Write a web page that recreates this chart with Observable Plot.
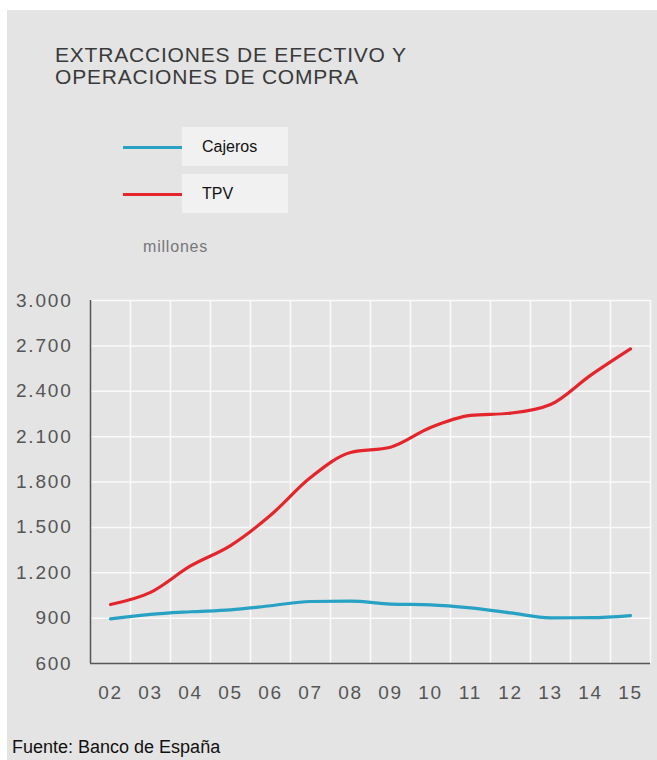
<!DOCTYPE html>
<html>
<head>
<meta charset="utf-8">
<script src="https://cdn.jsdelivr.net/npm/d3@7"></script>
<script src="https://cdn.jsdelivr.net/npm/@observablehq/plot@0.6"></script>
<style>
  html, body { margin: 0; padding: 0; background: #fff; }
  body { width: 657px; height: 760px; position: relative; overflow: hidden; font-family: "Liberation Sans", Arial, Helvetica, sans-serif; }
  #panel { position: absolute; left: 7px; top: 10px; width: 650px; height: 750px; background: #e4e4e4; }
  .abs { position: absolute; white-space: nowrap; }
  #title { left: 48px; top: 34px; font-size: 21px; line-height: 22px; color: #3a3a3a; letter-spacing: 0.8px; }
  .lgline { position: absolute; height: 3px; width: 59px; left: 116px; }
  .lgbox { position: absolute; left: 175px; width: 106px; height: 39px; background: #f1f1f1; font-size: 16px; color: #111; line-height: 39px; box-sizing: border-box; padding-left: 20px; }
  #unit { left: 136px; top: 228px; font-size: 16px; color: #777; letter-spacing: 0.8px; }
  #chart { position: absolute; left: 0; top: 270px; }
  #caption { left: 5px; top: 727px; font-size: 18px; color: #111; }
  #chart svg text { letter-spacing: 1.8px; }
</style>
</head>
<body>
<div id="panel">
  <div id="title" class="abs">EXTRACCIONES DE EFECTIVO Y<br>OPERACIONES DE COMPRA</div>
  <div id="legend"></div>
  <div id="unit" class="abs">millones</div>
  <div id="chart"></div>
  <div id="caption" class="abs">Fuente: Banco de España</div>
</div>
<script>
// ---- data ----
const years = ["02","03","04","05","06","07","08","09","10","11","12","13","14","15"];
const cajeros = [895, 925, 942, 955, 982, 1010, 1012, 993, 988, 968, 935, 902, 903, 917];
const tpv = [990, 1070, 1245, 1380, 1580, 1830, 1995, 2030, 2160, 2240, 2255, 2312, 2505, 2680];
const series = ["Cajeros", "TPV"];
const seriesColors = ["#27a1c4", "#e4262c"];
const yTicks = [600, 900, 1200, 1500, 1800, 2100, 2400, 2700, 3000];

const rows = [
  ...years.map((y, i) => ({year: y, value: cajeros[i], serie: series[0]})),
  ...years.map((y, i) => ({year: y, value: tpv[i], serie: series[1]}))
];

const fmt = d3.formatLocale({decimal: ",", thousands: ".", grouping: [3], currency: ["", "€"]}).format(",");

// legend (HTML)
const legend = document.getElementById("legend");
series.forEach((s, i) => {
  const top = 117 + i * 47;
  const line = document.createElement("div");
  line.className = "lgline";
  line.style.top = (top + 19) + "px";
  line.style.background = seriesColors[i];
  legend.appendChild(line);
  const box = document.createElement("div");
  box.className = "lgbox";
  box.style.top = top + "px";
  box.textContent = s;
  legend.appendChild(box);
});

const chart = Plot.plot({
  width: 650,
  height: 433,
  marginLeft: 83,
  marginRight: 7,
  marginTop: 20,
  marginBottom: 50,
  style: {background: "transparent", fontFamily: "'Liberation Sans', Arial, sans-serif", fontSize: "19px", color: "#555", overflow: "visible"},
  x: {type: "point", domain: years, padding: 0.5, axis: null},
  y: {domain: [600, 3000], axis: null},
  color: {domain: series, range: seriesColors},
  marks: [
    Plot.ruleY(yTicks.filter(v => v > 600), {stroke: "#fafafa", strokeWidth: 1.5}),
    Plot.ruleX(years, {dx: 20, stroke: "#fafafa", strokeWidth: 1.5}),
    Plot.ruleY([600], {stroke: "#555", strokeWidth: 1.5}),
    Plot.ruleX([years[0]], {dx: -20, stroke: "#555", strokeWidth: 1.5}),
    Plot.axisY({ticks: yTicks, tickSize: 0, tickPadding: 18, tickFormat: fmt, label: null, fontSize: 19, fill: "#555"}),
    Plot.axisX({ticks: years, tickSize: 0, tickPadding: 22, label: null, fontSize: 19, fill: "#555"}),
    Plot.line(rows, {x: "year", y: "value", stroke: "serie", z: "serie", strokeWidth: 3.2, curve: "monotone-x"})
  ]
});
document.getElementById("chart").appendChild(chart);
</script>
</body>
</html>
